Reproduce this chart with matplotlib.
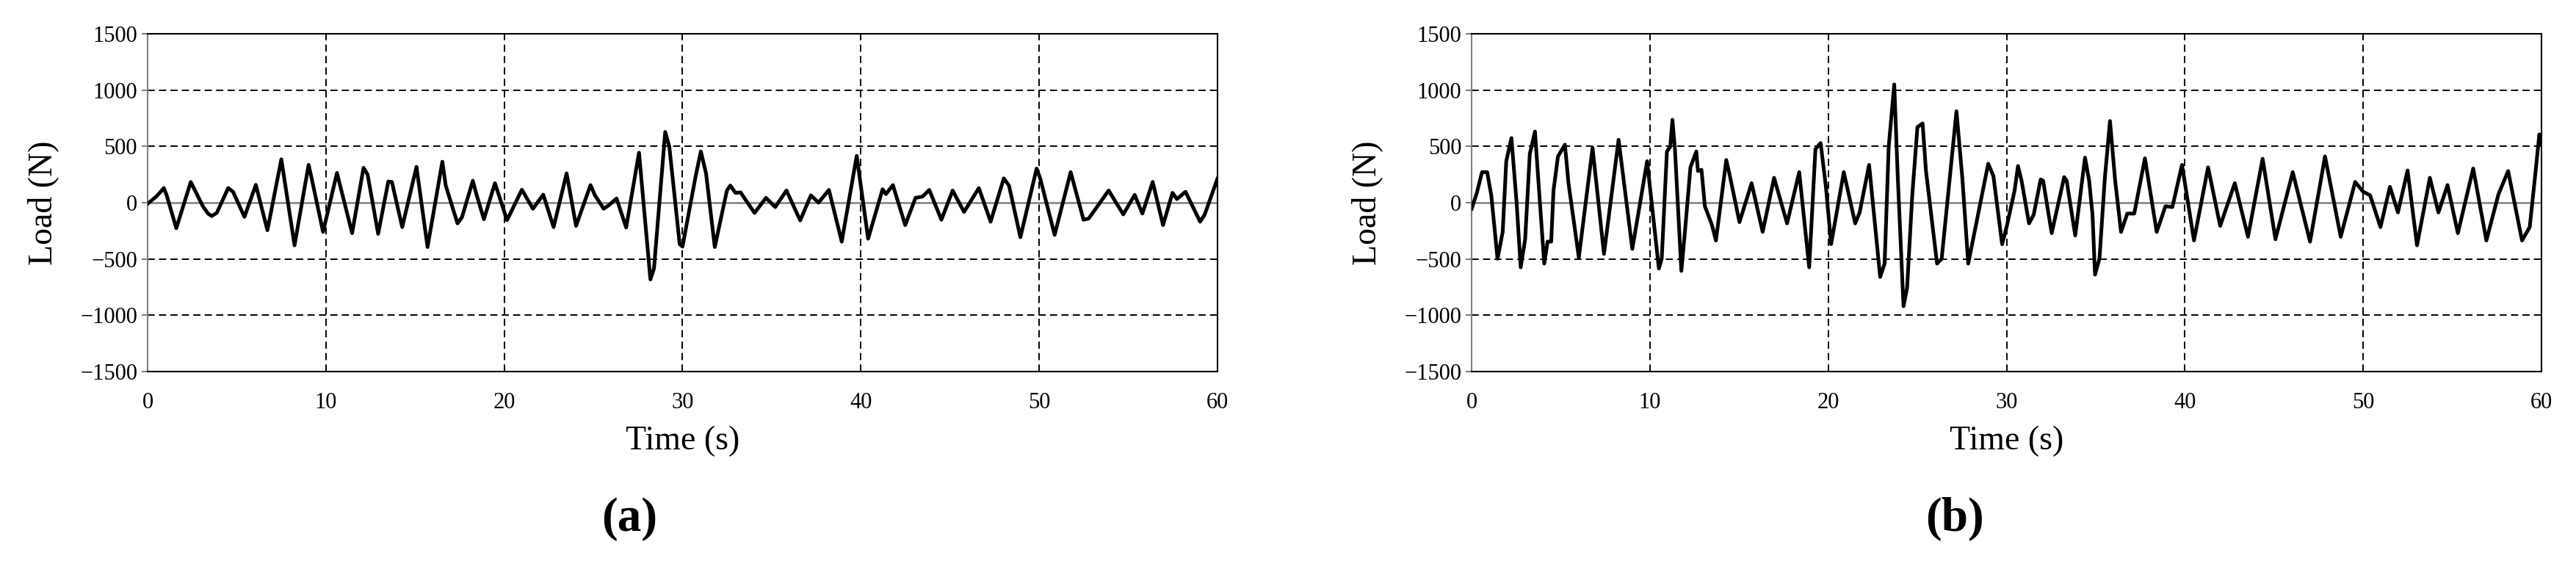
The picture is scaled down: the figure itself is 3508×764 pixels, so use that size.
import matplotlib.pyplot as plt

plt.rcParams["font.family"] = ["Liberation Serif", "DejaVu Serif"]

# panel (a): time (s) and load (N)
time_a = [
    0, 0.48, 0.68, 0.91, 1.07, 1.61, 2.42, 3.1, 3.39, 3.59,
    3.88, 4.52, 4.79, 5.43, 6.07, 6.72, 7.5, 8.24, 9.03, 9.2,
    9.84, 10.62, 11.47, 12.11, 12.34, 12.93, 13.5, 13.7, 14.28, 15.08,
    15.7, 16.53, 16.72, 17.38, 17.63, 18.24, 18.42, 18.86, 19.48, 20.16,
    20.99, 21.61, 22.19, 22.77, 23.5, 24.03, 24.84, 25.09, 25.58, 25.87,
    26.3, 26.84, 27.56, 28.2, 28.4, 29.03, 29.26, 29.84, 30.0, 30.74,
    31.03, 31.32, 31.81, 32.49, 32.68, 32.97, 33.26, 33.55, 34.04, 34.68,
    35.2, 35.83, 36.6, 37.2, 37.63, 38.21, 38.93, 39.77, 40.41, 41.22,
    41.41, 41.8, 42.49, 43.07, 43.46, 43.84, 44.52, 45.15, 45.79, 46.62,
    47.28, 48.02, 48.31, 48.95, 49.86, 50.06, 50.87, 51.77, 52.49, 52.78,
    53.9, 54.72, 55.36, 55.79, 56.37, 56.95, 57.48, 57.73, 58.21, 59.03,
    59.28, 60.0,
]
load_a = [
    -10, 54, 87, 130, 65, -227, 184, -32, -97, -119,
    -91, 130, 97, -126, 158, -245, 385, -379, 336, 216,
    -260, 264, -271, 310, 249, -277, 188, 184, -217, 318,
    -394, 364, 152, -184, -130, 195, 87, -147, 173, -156,
    115, -54, 71, -217, 260, -206, 156, 65, -54, -22,
    37, -221, 444, -682, -585, 628, 498, -368, -390, 238,
    455, 260, -394, 108, 152, 87, 91, 22, -91, 43,
    -39, 108, -158, 65, 0, 113, -346, 416, -320, 119,
    76, 156, -199, 43, 54, 113, -152, 108, -82, 130,
    -169, 216, 152, -307, 303, 216, -286, 271, -152, -141,
    108, -104, 69, -97, 184, -199, 87, 32, 97, -169,
    -108, 212,
]

# panel (b)
time_b = [
    0, 0.29, 0.58, 0.87, 1.1, 1.45, 1.74, 1.94, 2.23, 2.52,
    2.75, 3.0, 3.26, 3.55, 3.78, 4.07, 4.26, 4.46, 4.59, 4.84,
    5.23, 5.43, 6.01, 6.78, 7.42, 8.24, 9.01, 9.84, 10.5, 10.66,
    10.95, 11.14, 11.26, 11.4, 11.76, 11.96, 12.27, 12.6, 12.69, 12.89,
    13.08, 13.47, 13.7, 14.28, 14.48, 15.02, 15.7, 16.32, 16.96, 17.69,
    18.37, 18.93, 19.28, 19.57, 19.86, 20.16, 20.87, 21.51, 21.76, 22.29,
    22.91, 23.16, 23.39, 23.7, 23.9, 24.22, 24.42, 24.71, 25.0, 25.29,
    25.48, 26.1, 26.36, 27.19, 27.52, 27.85, 28.97, 29.26, 29.75, 30.0,
    30.45, 30.64, 30.84, 31.26, 31.52, 31.91, 32.05, 32.53, 33.23, 33.37,
    33.85, 34.4, 34.63, 34.82, 34.96, 35.21, 35.51, 35.8, 36.09, 36.42,
    36.77, 37.16, 37.76, 38.42, 38.91, 39.3, 39.84, 40.51, 41.3, 41.98,
    42.8, 43.54, 44.36, 45.08, 46.05, 47.02, 47.86, 48.74, 49.55, 50.0,
    50.39, 50.97, 51.5, 51.95, 52.49, 53.02, 53.74, 54.22, 54.73, 55.31,
    56.17, 56.91, 57.59, 58.13, 58.91, 59.34, 59.63, 59.88, 60.0,
]
load_b = [
    -54, 87, 271, 271, 65, -498, -260, 368, 574, 0,
    -574, -325, 433, 632, 108, -541, -346, -346, 108, 411,
    515, 173, -487, 487, -455, 559, -411, 368, -585, -498,
    455, 498, 736, 476, -606, -260, 314, 455, 281, 292,
    -32, -195, -336, 379, 238, -173, 173, -260, 221, -184,
    271, -574, 476, 530, 152, -368, 271, -184, -87, 336,
    -660, -541, 498, 1050, 217, -920, -758, 65, 671, 704,
    281, -541, -498, 812, 216, -541, 346, 238, -370, -217,
    108, 325, 195, -184, -108, 206, 195, -271, 227, 195,
    -292, 400, 195, -108, -639, -498, 217, 725, 195, -260,
    -97, -97, 394, -260, -32, -39, 336, -336, 314, -206,
    173, -303, 390, -325, 271, -346, 411, -303, 184, 97,
    65, -217, 141, -87, 286, -379, 221, -87, 156, -271,
    303, -336, 76, 281, -336, -217, 217, 606, 520,
]

x_ticks = [0, 10, 20, 30, 40, 50, 60]
y_ticks = [-1500, -1000, -500, 0, 500, 1000, 1500]
panel_tags = ["(a)", "(b)"]

GRID = {"color": "k", "lw": 1.4, "ls": (0, (5, 3)), "zorder": 1}


def draw_panel(ax, time, load):
    for x in x_ticks[1:-1]:
        ax.axvline(x, **GRID)
    for y in y_ticks[1:-1]:
        if y != 0:
            ax.axhline(y, **GRID)
    ax.axhline(0, color="#808080", lw=1.8, zorder=2)
    ax.plot(time, load, color="k", lw=3.6, zorder=3, solid_joinstyle="round")

    ax.set_xlim(0, 60)
    ax.set_ylim(-1500, 1500)
    ax.set_xticks(x_ticks)
    ax.set_yticks(y_ticks)
    ax.tick_params(axis="x", length=0, pad=20, labelsize=22)
    ax.tick_params(axis="y", direction="out", length=6, width=1.5,
                   color="#808080", pad=4, labelsize=22)
    for side in ["top", "right", "bottom"]:
        ax.spines[side].set_color("k")
        ax.spines[side].set_linewidth(1.5)
    ax.spines["left"].set_color("#808080")
    ax.spines["left"].set_linewidth(1.5)

    ax.set_xlabel("Time (s)", fontsize=33)
    ax.set_ylabel("Load (N)", fontsize=33)
    ax.xaxis.set_label_coords(0.5, -0.16)
    ax.yaxis.set_label_coords(-0.083, 0.5)


fig = plt.figure(figsize=(35.08, 7.64), dpi=100)
ax_a = fig.add_axes([0.0573, 0.3377, 0.4153, 0.6021])
ax_b = fig.add_axes([0.5713, 0.3377, 0.4153, 0.6021])
draw_panel(ax_a, time_a, load_a)
draw_panel(ax_b, time_b, load_b)

for x, tag in zip([0.2443, 0.7588], panel_tags):
    fig.text(x, 0.0746, tag, ha="center", va="center", fontsize=47,
             fontweight="bold")

fig.savefig("out.png", dpi=100)
